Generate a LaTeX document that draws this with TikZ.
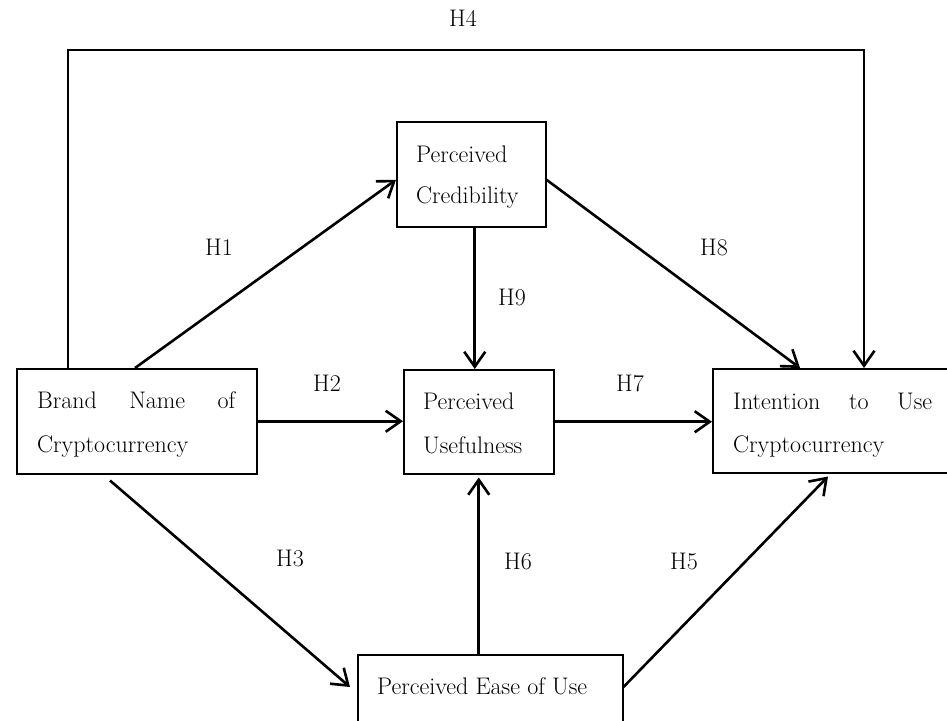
\documentclass[tikz,border=0pt]{standalone}
\usepackage{fontspec}
\setmainfont{Latin Modern Roman}
\usetikzlibrary{arrows.meta,calc}
\begin{document}
\begin{tikzpicture}[x=1pt,y=-1pt,
  box/.style={draw, line width=1.5pt, rectangle, inner sep=0pt, anchor=north west},
  txt/.style={font=\fontsize{24}{28}\selectfont, inner sep=0pt, anchor=base west},
  lab/.style={font=\fontsize{24}{28}\selectfont, inner sep=0pt, anchor=center},
  conn/.style={line width=2.6pt, -{Straight Barb[length=15pt,width=21pt]}}]
\useasboundingbox (0,0) rectangle (947,720);
\clip (0,0) rectangle (947,720);
% boxes
\node[box, minimum width=149pt, minimum height=105pt] (cred) at (396,121) {};
\node[box, minimum width=150pt, minimum height=104pt] (useful) at (403,369) {};
\node[box, minimum width=240pt, minimum height=105pt] (brand) at (16,368) {};
\node[box, minimum width=260pt, minimum height=104pt] (intent) at (712,368) {};
\node[box, minimum width=265pt, minimum height=100pt] (ease) at (357,654) {};
% box texts
\node[txt] (credA) at (416,162) {Perceived};
\node[txt] (credB) at (416,203) {Credibility};
\node[txt] (usefulA) at (423,409) {Perceived};
\node[txt] (usefulB) at (423,453) {Usefulness};
\node[txt] (brandA) at (37,408) {\makebox[198pt][s]{Brand Name of}};
\node[txt] (brandB) at (37,452) {Cryptocurrency};
\node[txt] (intentA) at (733,409) {\makebox[199pt][s]{Intention to Use}};
\node[txt] (intentB) at (733,452) {Cryptocurrency};
\node[txt] (easeA) at (377,694) {Perceived Ease of Use};
% connectors
\coordinate (topc) at (466,50);
\draw[conn] ($(brand.north west)+(52,0)$) |- (topc) -| ($(intent.north west)+(152,0)$);
\draw[conn] ($(brand.north west)+(119,0)$) -- ($(cred.west)+(0,5.5)$);
\draw[conn] (brand.east) -- (brand.east -| useful.west);
\draw[conn] ($(cred.south)+(3.5,0)$) coordinate (h9s) -- (h9s |- useful.north);
\draw[conn] ($(cred.east)+(0,5.5)$) -- ($(intent.north west)+(88,0)$);
\draw[conn] (useful.east) -- (useful.east -| intent.west);
\draw[conn] ($(brand.south west)+(94,6)$) -- ($(ease.north west)+(-7,33)$);
\draw[conn] (useful.south |- ease.north) -- ($(useful.south)+(0,3)$);
\draw[conn] ($(ease.north east)+(0,33)$) -- ($(intent.south west)+(116,3)$);
% labels
\node[lab] (h4) at (463,18) {H4};
\node[lab] (h1) at (219,247) {H1};
\node[lab] (h2) at (327,383) {H2};
\node[lab] (h9) at (512,297) {H9};
\node[lab] (h8) at (714,247) {H8};
\node[lab] (h7) at (630,383) {H7};
\node[lab] (h3) at (290,558) {H3};
\node[lab] (h6) at (518,561) {H6};
\node[lab] (h5) at (684,561) {H5};
\end{tikzpicture}
\end{document}
